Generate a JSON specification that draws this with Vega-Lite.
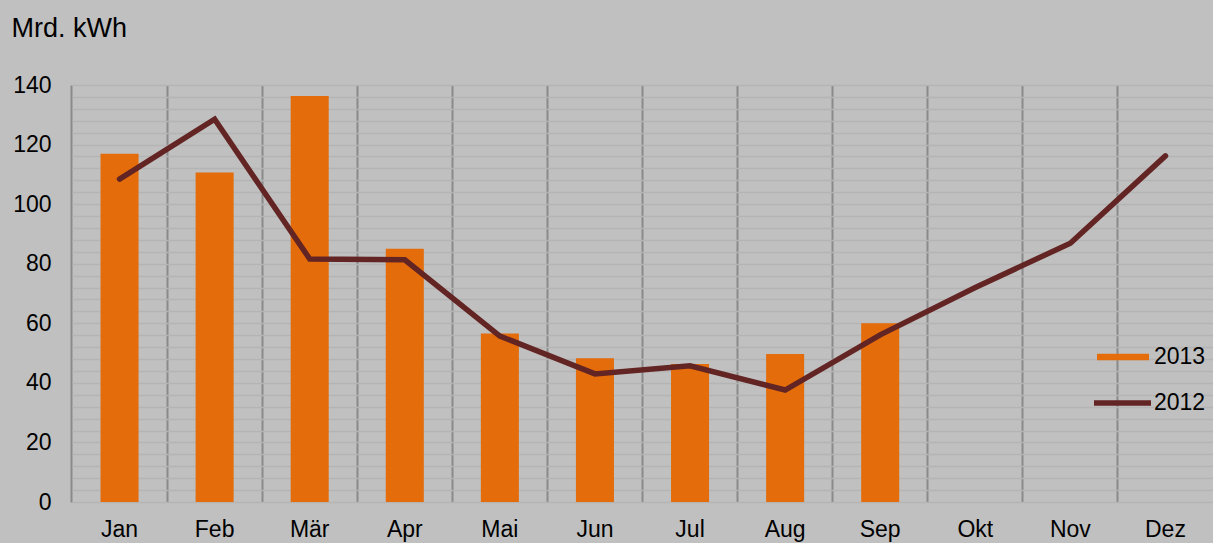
{
  "$schema": "https://vega.github.io/schema/vega-lite/v6.json",
  "autosize": "none",
  "width": 1141,
  "height": 417,
  "padding": {"left": 72, "top": 85, "right": 0, "bottom": 41},
  "background": "#c0c0c0",
  "config": {
    "view": {"stroke": null},
    "font": "Liberation Sans",
    "legend": {"padding": 0, "offset": 0, "labelFont": "Liberation Sans", "labelFontSize": 23, "labelColor": "#000000", "labelOffset": 5, "title": null}
  },
  "data": {
    "values": [
      {"month": "Jan", "year": "2013", "value": 116.9},
      {"month": "Feb", "year": "2013", "value": 110.6},
      {"month": "Mär", "year": "2013", "value": 136.3},
      {"month": "Apr", "year": "2013", "value": 85.0},
      {"month": "Mai", "year": "2013", "value": 56.6},
      {"month": "Jun", "year": "2013", "value": 48.3},
      {"month": "Jul", "year": "2013", "value": 46.3},
      {"month": "Aug", "year": "2013", "value": 49.7},
      {"month": "Sep", "year": "2013", "value": 60.0},
      {"month": "Jan", "year": "2012", "value": 108.4},
      {"month": "Feb", "year": "2012", "value": 128.5},
      {"month": "Mär", "year": "2012", "value": 81.6},
      {"month": "Apr", "year": "2012", "value": 81.3},
      {"month": "Mai", "year": "2012", "value": 55.7},
      {"month": "Jun", "year": "2012", "value": 43.0},
      {"month": "Jul", "year": "2012", "value": 45.7},
      {"month": "Aug", "year": "2012", "value": 37.6},
      {"month": "Sep", "year": "2012", "value": 56.1},
      {"month": "Okt", "year": "2012", "value": 72.0},
      {"month": "Nov", "year": "2012", "value": 86.9},
      {"month": "Dez", "year": "2012", "value": 116.2}
    ]
  },
  "encoding": {
    "x": {
      "field": "month",
      "type": "nominal",
      "sort": ["Jan", "Feb", "Mär", "Apr", "Mai", "Jun", "Jul", "Aug", "Sep", "Okt", "Nov", "Dez"],
      "scale": {"domain": ["Jan", "Feb", "Mär", "Apr", "Mai", "Jun", "Jul", "Aug", "Sep", "Okt", "Nov", "Dez"], "paddingInner": 0.6, "paddingOuter": 0.3},
      "axis": {
        "title": null,
        "domain": false,
        "ticks": false,
        "grid": true,
        "bandPosition": -0.75,
        "gridColor": "#8a8a8a",
        "gridWidth": 2,
        "labelAngle": 0,
        "labelFont": "Liberation Sans",
        "labelFontSize": 23,
        "labelColor": "#000000",
        "labelPadding": 16,
        "zindex": 0
      }
    },
    "y": {
      "field": "value",
      "type": "quantitative",
      "scale": {"domain": [0, 140], "nice": false},
      "axis": {
        "title": "Mrd. kWh",
        "titleAngle": 0,
        "titleX": -61,
        "titleY": -49,
        "titleAlign": "left",
        "titleBaseline": "alphabetic",
        "titleFont": "Liberation Sans",
        "titleFontSize": 27,
        "titleFontWeight": "normal",
        "titleColor": "#000000",
        "domain": false,
        "ticks": false,
        "grid": true,
        "gridColor": "#b4b4b4",
        "gridWidth": 1.5,
        "values": [0, 4, 8, 12, 16, 20, 24, 28, 32, 36, 40, 44, 48, 52, 56, 60, 64, 68, 72, 76, 80, 84, 88, 92, 96, 100, 104, 108, 112, 116, 120, 124, 128, 132, 136, 140],
        "labelExpr": "datum.value % 20 === 0 ? datum.label : ''",
        "labelFont": "Liberation Sans",
        "labelFontSize": 23,
        "labelColor": "#000000",
        "labelPadding": 21,
        "zindex": 0
      }
    }
  },
  "layer": [
    {
      "transform": [{"filter": "datum.year === '2013'"}],
      "mark": {"type": "bar"},
      "encoding": {
        "color": {
          "field": "year",
          "type": "nominal",
          "scale": {"domain": ["2013"], "range": ["#e46c0a"]},
          "legend": {
            "orient": "none",
            "legendX": 1025,
            "legendY": 246,
            "symbolType": "M-1,-0.125H1V0.125H-1Z",
            "symbolSize": 2704,
            "symbolStrokeWidth": 0,
            "symbolOpacity": 1
          }
        }
      }
    },
    {
      "transform": [{"filter": "datum.year === '2012'"}],
      "mark": {"type": "line", "strokeWidth": 5.5, "strokeCap": "round"},
      "encoding": {
        "stroke": {
          "field": "year",
          "type": "nominal",
          "scale": {"domain": ["2012"], "range": ["#632523"]},
          "legend": {
            "orient": "none",
            "legendX": 1019,
            "legendY": 286.5,
            "labelOffset": 0,
            "symbolType": "stroke",
            "symbolSize": 3249,
            "symbolStrokeWidth": 5.5,
            "symbolOpacity": 1
          }
        }
      }
    }
  ]
}
